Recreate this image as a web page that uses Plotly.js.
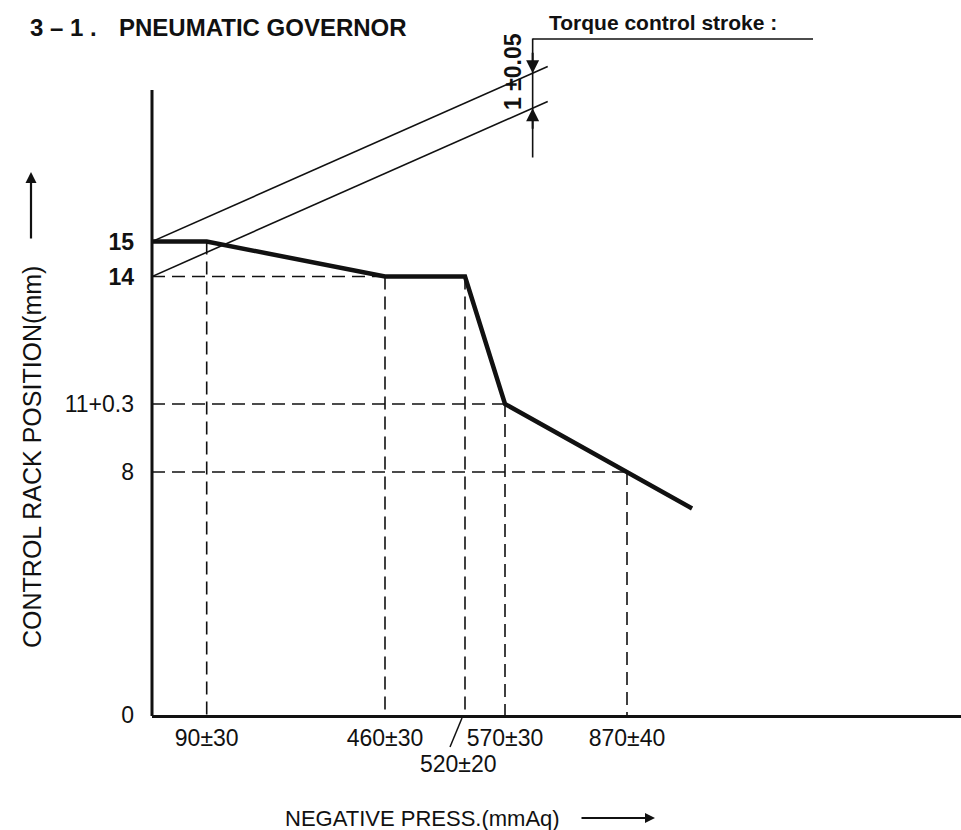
<!DOCTYPE html>
<html>
<head>
<meta charset="utf-8">
<script src="https://cdn.plot.ly/plotly-3.0.1.min.js"></script>
<style>html,body{margin:0;padding:0;background:#fff;}#chart{width:961px;height:830px;}</style>
</head>
<body>
<div id="chart"></div>
<script>
// ---------------- data ----------------
// governor characteristic: negative pressure (mmAq) vs control rack position (mm)
const curvePress = [0, 90, 460, 520, 570, 870, 1030];
const curveRack  = [15, 15, 14, 14, 11, 8, 6.8];

// check points marked with dashed guides
const markPress  = [90, 460, 520, 570, 870];
const markRack   = [15, 14, 14, 11, 8];
const markLabels = ['90±30', '460±30', '520±20', '570±30', '870±40'];

// rack tick labels
const rackTicks  = [0, 8, 11, 14, 15];
const rackLabels = ['0', '8', '11+0.3', '<b>14</b>', '<b>15</b>'];

// torque control stroke band (two parallel lines, 1 mm apart)
const torquePress = [0, 675];
const torqueUpper = [15, 20];
const torqueLower = [14, 19];
const strokePress = 638;
const strokeRack  = [17.4, 20.8];

// ---------------- schematic (non-linear) scales of the printed diagram ----------------
const pressScaleT = [0, 90, 460, 520, 570, 870];
const pressScaleP = [0, 54.7, 233, 313, 353, 475];
const rackScaleT  = [0, 8, 11, 14, 15];
const rackScaleP  = [0, 243, 311, 438.5, 473.5];

function seg(v, t, p) {
  let i = 0;
  while (i < t.length - 2 && v > t[i + 1]) i++;
  return p[i] + (v - t[i]) * (p[i + 1] - p[i]) / (t[i + 1] - t[i]);
}
const X = v => seg(v, pressScaleT, pressScaleP);
const Y = v => seg(v, rackScaleT, rackScaleP);

// layout geometry helpers (pixel -> paper)
const W = 961, H = 830, ML = 152, MB = 115;
const PW = W - ML, PH = H - MB;
const px = p => (p - ML) / PW;
const py = p => (PH - p) / PH;

const FONT = 'Liberation Sans, Arial, Helvetica, sans-serif';
const INK = '#111';

// ---------------- traces ----------------
const traces = [];

// dashed guides
const dash = {color: INK, width: 1.6, dash: '13px,7px'};
const seenLevels = {};
markPress.forEach((p, i) => {
  const r = markRack[i];
  if (r !== 15 && !seenLevels[r]) {
    seenLevels[r] = true;
    traces.push({x: [X(0), X(p)], y: [Y(r), Y(r)], mode: 'lines', line: dash, hoverinfo: 'skip'});
  }
  traces.push({x: [X(p), X(p)], y: [Y(r), Y(0)], mode: 'lines', line: dash, hoverinfo: 'skip'});
});

// torque control lines
traces.push({x: torquePress.map(X), y: torqueUpper.map(Y), mode: 'lines', line: {color: INK, width: 1.6}, hoverinfo: 'skip'});
traces.push({x: torquePress.map(X), y: torqueLower.map(Y), mode: 'lines', line: {color: INK, width: 1.6}, hoverinfo: 'skip'});
// stroke dimension line
traces.push({x: [X(strokePress), X(strokePress)], y: strokeRack.map(Y), mode: 'lines', line: {color: INK, width: 1.6}, hoverinfo: 'skip'});

// main characteristic
traces.push({x: curvePress.map(X), y: curveRack.map(Y), mode: 'lines', line: {color: INK, width: 4.5, shape: 'linear'}, hoverinfo: 'skip'});

// intersection of the stroke line with the band lines (in drawing space)
function atX(xs, pxArr, ryArr) {
  const x0 = X(pxArr[0]), x1 = X(pxArr[1]), y0 = Y(ryArr[0]), y1 = Y(ryArr[1]);
  return y0 + (y1 - y0) * (xs - x0) / (x1 - x0);
}
const xs = X(strokePress);
const yUp = atX(xs, torquePress, torqueUpper);
const yLo = atX(xs, torquePress, torqueLower);

// ---------------- annotations ----------------
const ann = [];
// title
ann.push({xref: 'paper', yref: 'paper', x: px(28), y: py(28), xanchor: 'left', yanchor: 'middle', showarrow: false,
  text: '<b>3 – 1 .</b>', font: {family: FONT, size: 24, color: INK}});
ann.push({xref: 'paper', yref: 'paper', x: px(117), y: py(28), xanchor: 'left', yanchor: 'middle', showarrow: false,
  text: '<b>PNEUMATIC GOVERNOR</b>', font: {family: FONT, size: 24, color: INK}});
// torque control label
ann.push({xref: 'paper', yref: 'paper', x: px(547), y: py(22), xanchor: 'left', yanchor: 'middle', showarrow: false,
  text: '<b>Torque control stroke :</b>', font: {family: FONT, size: 21, color: INK}});
// stroke value
ann.push({xref: 'paper', yref: 'paper', x: px(513), y: py(72), xanchor: 'center', yanchor: 'middle', showarrow: false,
  textangle: -90, text: '<b>1 ±0.05</b>', font: {family: FONT, size: 23, color: INK}});
// stroke arrows
ann.push({xref: 'x', yref: 'y', x: xs, y: yUp, ax: 0, ay: -22, showarrow: true, arrowhead: 2, arrowsize: 1.3, arrowwidth: 2, arrowcolor: INK, text: ''});
ann.push({xref: 'x', yref: 'y', x: xs, y: yLo, ax: 0, ay: 22, showarrow: true, arrowhead: 2, arrowsize: 1.3, arrowwidth: 2, arrowcolor: INK, text: ''});
// 520 label below with leader
const i520 = markPress.indexOf(520);
ann.push({xref: 'x', yref: 'paper', x: X(markPress[i520]), xshift: -7, y: py(764), xanchor: 'center', yanchor: 'middle', showarrow: false,
  text: markLabels[i520], font: {family: FONT, size: 23, color: INK}});
// axis titles
ann.push({xref: 'paper', yref: 'paper', x: px(32), y: py(457), xanchor: 'center', yanchor: 'middle', showarrow: false,
  textangle: -90, text: 'CONTROL RACK POSITION(mm)', font: {family: FONT, size: 25, color: INK}});
ann.push({xref: 'paper', yref: 'paper', x: px(31), y: py(172), ax: 0, ay: 68, showarrow: true, arrowhead: 2, arrowsize: 1, arrowwidth: 2.2, arrowcolor: INK, text: ''});
ann.push({xref: 'paper', yref: 'paper', x: px(562), y: py(818), xanchor: 'right', yanchor: 'middle', showarrow: false,
  text: 'NEGATIVE PRESS.(mmAq)', font: {family: FONT, size: 22, color: INK}});
ann.push({xref: 'paper', yref: 'paper', x: px(655), y: py(818), ax: -75, ay: 0, showarrow: true, arrowhead: 2, arrowsize: 1, arrowwidth: 2, arrowcolor: INK, text: ''});

// ---------------- shapes ----------------
const shapes = [
  // vertical axis line (stops short of the top)
  {type: 'line', xref: 'paper', yref: 'paper', x0: 0, x1: 0, y0: py(716), y1: py(90), line: {color: INK, width: 3}},
  // leader under the torque label
  {type: 'line', xref: 'paper', yref: 'paper', x0: px(532.7), x1: px(813), y0: py(39), y1: py(39), line: {color: INK, width: 1.6}},
  // leader from 520 label to its tick
  {type: 'line', xref: 'paper', yref: 'paper', x0: px(X(520) + ML - 15), x1: px(X(520) + ML - 3), y0: py(747), y1: py(718), line: {color: INK, width: 1.5}}
];

const otherTicks = markPress.filter(p => p !== 520);
const layout = {
  width: W, height: H,
  margin: {l: ML, r: 0, t: 0, b: MB, pad: 0},
  paper_bgcolor: '#fff', plot_bgcolor: '#fff',
  showlegend: false,
  xaxis: {
    range: [0, PW], fixedrange: true, showgrid: false, zeroline: false,
    showline: true, linecolor: INK, linewidth: 3,
    ticks: '', tickmode: 'array',
    tickvals: otherTicks.map(X),
    ticktext: otherTicks.map(p => markLabels[markPress.indexOf(p)]),
    tickfont: {family: FONT, size: 23, color: INK},
    ticklabelstandoff: 0
  },
  yaxis: {
    range: [0, PH], fixedrange: true, showgrid: false, zeroline: false, showline: false,
    ticks: '', tickmode: 'array',
    tickvals: rackTicks.map(Y), ticktext: rackLabels,
    tickfont: {family: FONT, size: 23, color: INK},
    ticklabelstandoff: 17
  },
  annotations: ann,
  shapes: shapes
};

Plotly.newPlot('chart', traces, layout, {staticPlot: true, displayModeBar: false});
</script>
</body>
</html>
